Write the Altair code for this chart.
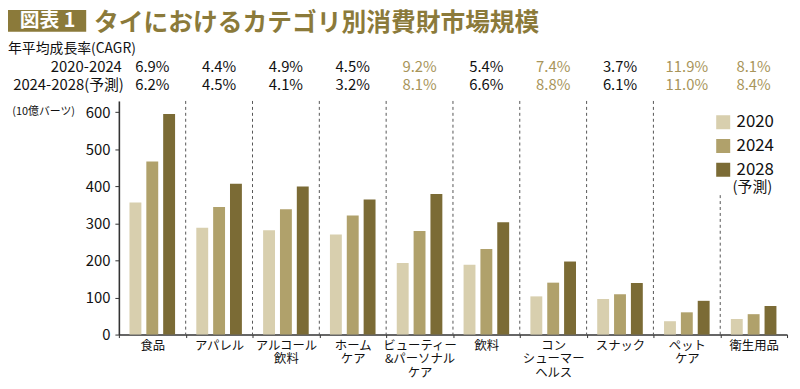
import altair as alt
import pandas as pd

# ---- data ----
categories = ["食品", "アパレル", "アルコール|飲料", "ホーム|ケア", "ビューティー|&パーソナル|ケア",
              "飲料", "コン|シューマー|ヘルス", "スナック", "ペット|ケア", "衛生用品"]
years = ["2020", "2024", "2028"]
v2020 = [356, 288, 281, 270, 193, 188, 103, 96, 36, 42]
v2024 = [467, 344, 338, 321, 279, 231, 140, 109, 60, 55]
v2028 = [595, 407, 399, 364, 379, 303, 197, 139, 91, 77]
cagr_2020_2024 = ["6.9%", "4.4%", "4.9%", "4.5%", "9.2%", "5.4%", "7.4%", "3.7%", "11.9%", "8.1%"]
cagr_2024_2028 = ["6.2%", "4.5%", "4.1%", "3.2%", "8.1%", "6.6%", "8.8%", "6.1%", "11.0%", "8.4%"]
highlight = [False, False, False, False, True, False, True, False, True, True]
divider_top = [630, 630, 630, 630, 630, 630, 630, 630, 376]  # dividers before categories 2..10
y_ticks = [0, 100, 200, 300, 400, 500, 600]

FONT = "Noto Sans CJK JP"
GOLD = "#8b7a3a"
GOLD_TXT = "#a8955a"
COLORS = ["#d8cfae", "#b0a16b", "#7b6b35"]

rows = []
for i, c in enumerate(categories):
    for y, vals in zip(years, [v2020, v2024, v2028]):
        rows.append({"cat": c, "year": y, "value": vals[i]})
bars_df = pd.DataFrame(rows)

cagr_df = pd.DataFrame({"cat": categories, "r1": cagr_2020_2024, "r2": cagr_2024_2028, "hl": highlight})
div_df = pd.DataFrame({"cat": categories[1:], "top": divider_top, "bottom": [0] * 9})
one = pd.DataFrame({"k": [0]})

W, H = 675, 236

xscale = alt.Scale(domain=categories, paddingInner=0, paddingOuter=0)
yscale = alt.Scale(domain=[0, 630], nice=False)

xaxis = alt.Axis(labelAngle=0, labelExpr="split(datum.label, '|')", labelFontSize=12.5,
                 labelColor="#111", labelLineHeight=13.5, labelPadding=2, labelBaseline="top",
                 labelOverlap=False, labelLimit=0,
                 tickBand="extent", tickSize=3, tickColor="#333", domainColor="#333",
                 domainWidth=1.6, labelFont=FONT)
yaxis = alt.Axis(values=y_ticks, grid=False, tickSize=4, labelOverlap=False,
                 tickColor="#333", domainColor="#333", domainWidth=1.6, labelFontSize=15,
                 labelColor="#111", labelPadding=5, labelFont=FONT)

def X(**kw):
    return alt.X("cat:N", sort=categories, scale=xscale, title=None, axis=xaxis, **kw)

bars = alt.Chart(bars_df).mark_bar().encode(
    x=X(),
    xOffset=alt.XOffset("year:N", sort=years, scale=alt.Scale(paddingInner=0.294, paddingOuter=0.63)),
    y=alt.Y("value:Q", scale=yscale, title=None, axis=yaxis),
    color=alt.Color("year:N", sort=years, scale=alt.Scale(domain=years, range=COLORS),
                    legend=alt.Legend(title=None, orient="none", legendX=602, legendY=13,
                                      symbolType="square", symbolSize=200, symbolStrokeWidth=0,
                                      labelFontSize=17, labelFont=FONT, labelColor="#111",
                                      rowPadding=6, labelOffset=5, padding=0)),
)

dividers = alt.Chart(div_df).mark_rule(strokeDash=[3, 3], color="#555", strokeWidth=1).encode(
    x=X(bandPosition=0),
    y=alt.Y("top:Q", scale=yscale, title=None, axis=yaxis),
    y2="bottom:Q",
)

def cagr_layer(field, ypos, hl, color):
    return alt.Chart(cagr_df).transform_filter(
        alt.datum.hl if hl else ~alt.datum.hl
    ).mark_text(fontSize=15, font=FONT, color=color, baseline="middle").encode(
        x=X(),
        y=alt.value(ypos),
        text=f"{field}:N",
    )

cagr_layers = [
    cagr_layer("r1", -34, False, "#111"),
    cagr_layer("r1", -34, True, GOLD_TXT),
    cagr_layer("r2", -16, False, "#111"),
    cagr_layer("r2", -16, True, GOLD_TXT),
]

def label(text, x, y, size, align="left", color="#111", weight="normal"):
    return alt.Chart(one).mark_text(fontSize=size, font=FONT, color=color, align=align,
                                    baseline="middle", fontWeight=weight).encode(
        x=alt.value(x), y=alt.value(y), text=alt.value(text))

title_box = alt.Chart(one).mark_rect(color=GOLD).encode(
    x=alt.value(-112), x2=alt.value(-33), y=alt.value(-92), y2=alt.value(-70))

annotations = [
    title_box,
    label("図表 1", -72, -80.5, 20, align="center", color="white", weight="bold"),
    label("タイにおけるカテゴリ別消費財市場規模", -25, -79, 25, color=GOLD, weight="bold"),
    label("年平均成長率(CAGR)", -112, -52, 14),
    label("2020-2024", 3, -34, 15, align="right"),
    label("2024-2028(予測)", 5, -16, 15, align="right"),
    label("(10億バーツ)", -76, 11, 11, align="center"),
    label("(予測)", 640, 87, 15, align="center"),
]

chart = alt.layer(bars, dividers, *cagr_layers, *annotations).properties(
    width=W, height=H,
    autosize=alt.AutoSizeParams(type="none"),
    padding={"left": 112, "top": 92, "right": 5, "bottom": 45},
).configure(font=FONT).configure_view(strokeWidth=0)

chart.save("out.html", embed_options={"renderer": "svg", "actions": False})
